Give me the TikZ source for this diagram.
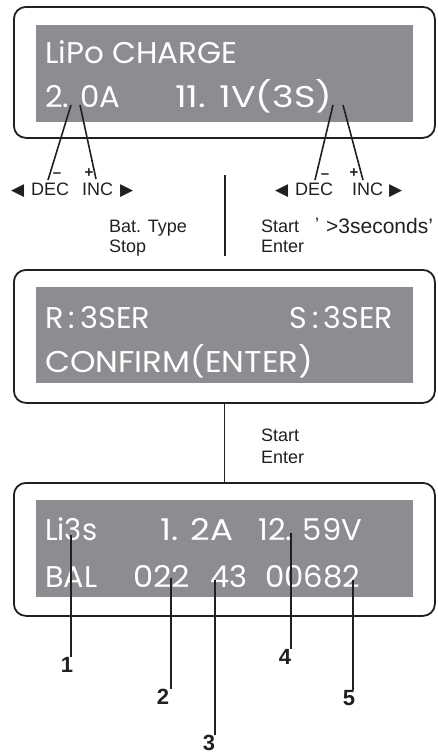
\documentclass[tikz,border=0pt]{standalone}
\usepackage{graphicx}
\usepackage{fontspec}
\setmainfont{Liberation Sans}
\newfontfamily\lcdfont{Poppins}
\newfontfamily\symfont{DejaVu Sans}
\definecolor{lcdgray}{RGB}{140,140,145}
\definecolor{ink}{RGB}{35,31,32}
\newcommand\lcdw[2]{\resizebox{#1}{\height}{#2}}
\begin{document}
\begin{tikzpicture}[x=1pt,y=-1pt,
  frame/.style={draw=ink, line width=1.8pt, rounded corners=12pt, anchor=north west, inner sep=0, minimum width=421pt},
  screen/.style={fill=lcdgray, inner sep=0, anchor=north west, minimum width=377pt},
  lcd/.style={font=\lcdfont\fontsize{30}{30}\selectfont, text=white, anchor=base west, inner sep=0},
  lbl/.style={font=\fontsize{18}{18}\selectfont, text=ink, anchor=base west, inner sep=0},
  sym/.style={font=\symfont\fontsize{17}{17}\selectfont, text=ink, anchor=base west, inner sep=0},
  sgn/.style={font=\bfseries\fontsize{15}{15}\selectfont, text=ink, inner sep=0},
  num/.style={font=\bfseries\fontsize{22}{22}\selectfont, text=ink, inner sep=0},
  wire/.style={line width=1.6pt, draw=ink}
]
\useasboundingbox (0,0) rectangle (438,755);

% ---------- box 1
\node[frame, minimum height=131pt] (box1) at (13,6) {};
\node[screen, minimum height=97pt] (scr1) at (36,25) {};
\node[lcd] (t1) at (45,63) {\lcdw{192pt}{LiPo CHARGE}};
\node[lcd] (t2) at (45,107) {\lcdw{75pt}{2. 0A}};
\node[lcd] (t3) at (175,107) {\lcdw{157pt}{11. 1V(3S)}};

\coordinate (a1) at (71,105);
\coordinate (a2) at (80,105);
\coordinate (a3) at (333,105);
\coordinate (a4) at (343,105);
\coordinate (b1) at (48,180);
\coordinate (b2) at (96,179);
\coordinate (b3) at (315,180);
\coordinate (b4) at (363,180);
\draw[wire] (a1) -- (b1);
\draw[wire] (a2) -- (b2);
\draw[wire] (a3) -- (b3);
\draw[wire] (a4) -- (b4);

\node[sgn] (m1) at (57,175) {–};
\node[sgn] (pl1) at (89,173) {+};
\node[sgn] (m2) at (325,176) {–};
\node[sgn] (pl2) at (354,173) {+};

\node[sym] (la1) at (11,195) {◀};
\node[lbl] (dec1) at (31,195) {DEC};
\node[lbl] (inc1) at (82,195) {INC};
\node[sym] (ra1) at (120,195) {▶};
\node[sym] (la2) at (275,195) {◀};
\node[lbl] (dec2) at (295,195) {DEC};
\node[lbl] (inc2) at (352,195) {INC};
\node[sym] (ra2) at (389,195) {▶};

\coordinate (v1) at (225,175);
\coordinate (v2) at (225,256);
\draw[wire] (v1) -- (v2);

\node[lbl] (bat) at (109,232) {Bat. Type};
\node[lbl] (stop) at (109,252) {Stop};
\node[lbl] (start1) at (261,232) {Start};
\node[lbl] (enter1) at (261,252) {Enter};
\node[lbl] (q1) at (315,230) {’};
\node[lbl, font=\fontsize{21}{21}\selectfont] (sec) at (326,233) {>3seconds’};

% ---------- box 2
\node[frame, minimum height=133pt] (box2) at (13,269) {};
\node[screen, minimum height=96pt] (scr2) at (36,287) {};
\node[lcd] (t4) at (45,328) {\lcdw{105pt}{R\,:\,3SER}};
\node[lcd, anchor=base east] (t5) at (393,328) {\lcdw{103pt}{S\,:\,3SER}};
\node[lcd] (t6) at (45,372) {\lcdw{268pt}{CONFIRM(ENTER)}};

\node[lbl] (start2) at (261,441) {Start};
\node[lbl] (enter2) at (261,463) {Enter};

% ---------- box 3
\node[frame, minimum height=133pt] (box3) at (13,482) {};
\node[screen, minimum height=97pt] (scr3) at (36,500) {};
\draw[wire] (box2.south) -- (box3.north);
\node[lcd] (t7) at (45,540) {\lcdw{52pt}{Li3s}};
\node[lcd] (t8) at (160,540) {\lcdw{73pt}{1. 2A}};
\node[lcd] (t9) at (258,540) {\lcdw{104pt}{12. 59V}};
\node[lcd] (t10) at (45,587) {\lcdw{52pt}{BAL}};
\node[lcd] (t11) at (133,587) {\lcdw{57pt}{022}};
\node[lcd] (t12) at (210,587) {\lcdw{37pt}{43}};
\node[lcd] (t13) at (265,587) {\lcdw{95pt}{00682}};

\node[num] (n1) at (67,665) {1};
\node[num] (n2) at (163,697) {2};
\node[num] (n3) at (209,743) {3};
\node[num] (n4) at (285,657) {4};
\node[num] (n5) at (349,698) {5};

\coordinate (c1) at (71,535);
\coordinate (c2) at (171,578);
\coordinate (c3) at (215,580);
\coordinate (c4) at (291,533);
\coordinate (c5) at (353,580);
\draw[wire] (c1) -- (c1 |- n1.north);
\draw[wire] (c2) -- (c2 |- n2.north);
\draw[wire] (c3) -- (c3 |- n3.north);
\draw[wire] (c4) -- (c4 |- n4.north);
\draw[wire] (c5) -- (c5 |- n5.north);
\end{tikzpicture}
\end{document}
